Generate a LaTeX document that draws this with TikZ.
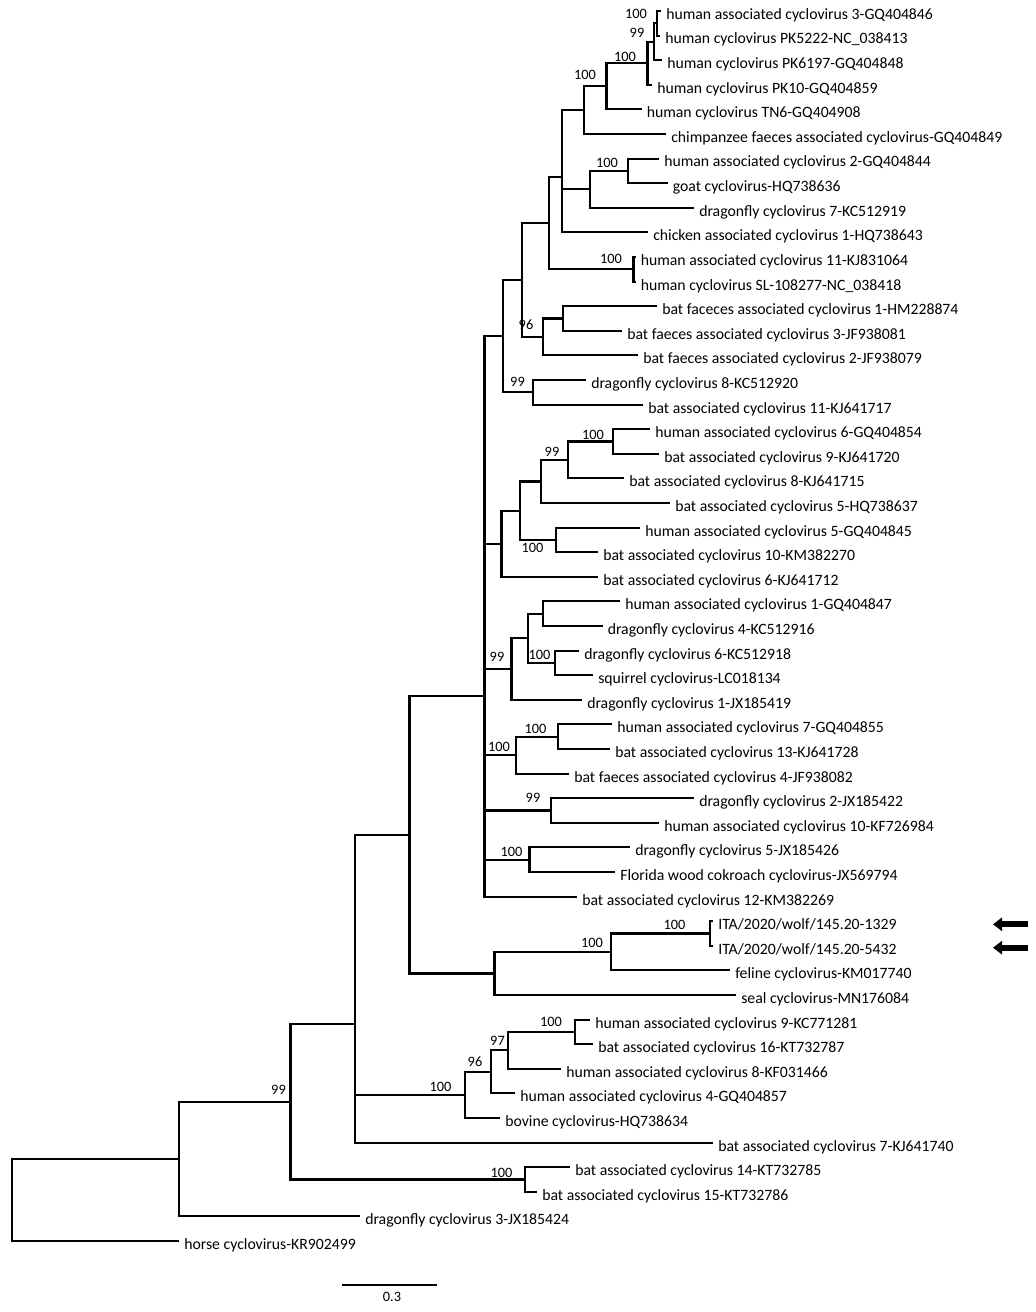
\documentclass[tikz,border=0pt]{standalone}
\usepackage{fontspec}
\setmainfont{Carlito}
\usetikzlibrary{arrows.meta}

\begin{document}
\begin{tikzpicture}[x=0.025cm,y=-0.025cm,
  branch/.style={draw=black,line width=1.45pt},
  leaf/.style={anchor=base west,inner sep=0pt,xshift=0.125cm,yshift=-0.21cm,font=\fontsize{11.2}{13}\selectfont},
  boot/.style={inner sep=0pt,font=\fontsize{10.2}{12}\selectfont},
  pointer/.style={line width=4.3pt,-{Triangle[length=6.5pt,width=9.5pt]}}
]
\useasboundingbox (0,0) rectangle (1036,1312);

\path (661,11) coordinate (t0) node[leaf] (l0) {human associated cyclovirus 3-GQ404846};
\path (660,35.6) coordinate (t1) node[leaf] (l1) {human cyclovirus PK5222-NC\_038413};
\path (662,60.2) coordinate (t2) node[leaf] (l2) {human cyclovirus PK6197-GQ404848};
\path (652,84.8) coordinate (t3) node[leaf] (l3) {human cyclovirus PK10-GQ404859};
\path (641.5,109.4) coordinate (t4) node[leaf] (l4) {human cyclovirus TN6-GQ404908};
\path (666,134) coordinate (t5) node[leaf] (l5) {chimpanzee faeces associated cyclovirus-GQ404849};
\path (659,158.6) coordinate (t6) node[leaf] (l6) {human associated cyclovirus 2-GQ404844};
\path (667.5,183.2) coordinate (t7) node[leaf] (l7) {goat cyclovirus-HQ738636};
\path (694,207.8) coordinate (t8) node[leaf] (l8) {dragonfly cyclovirus 7-KC512919};
\path (648,232.4) coordinate (t9) node[leaf] (l9) {chicken associated cyclovirus 1-HQ738643};
\path (635.5,257) coordinate (t10) node[leaf] (l10) {human associated cyclovirus 11-KJ831064};
\path (635.5,281.6) coordinate (t11) node[leaf] (l11) {human cyclovirus SL-108277-NC\_038418};
\path (657,306.2) coordinate (t12) node[leaf] (l12) {bat faceces associated cyclovirus 1-HM228874};
\path (622,330.8) coordinate (t13) node[leaf] (l13) {bat faeces associated cyclovirus 3-JF938081};
\path (638,355.4) coordinate (t14) node[leaf] (l14) {bat faeces associated cyclovirus 2-JF938079};
\path (586,380) coordinate (t15) node[leaf] (l15) {dragonfly cyclovirus 8-KC512920};
\path (643,404.6) coordinate (t16) node[leaf] (l16) {bat associated cyclovirus 11-KJ641717};
\path (650,429.2) coordinate (t17) node[leaf] (l17) {human associated cyclovirus 6-GQ404854};
\path (659,453.8) coordinate (t18) node[leaf] (l18) {bat associated cyclovirus 9-KJ641720};
\path (624,478.4) coordinate (t19) node[leaf] (l19) {bat associated cyclovirus 8-KJ641715};
\path (670,503) coordinate (t20) node[leaf] (l20) {bat associated cyclovirus 5-HQ738637};
\path (640,527.6) coordinate (t21) node[leaf] (l21) {human associated cyclovirus 5-GQ404845};
\path (598,552.2) coordinate (t22) node[leaf] (l22) {bat associated cyclovirus 10-KM382270};
\path (598,576.8) coordinate (t23) node[leaf] (l23) {bat associated cyclovirus 6-KJ641712};
\path (620,601.4) coordinate (t24) node[leaf] (l24) {human associated cyclovirus 1-GQ404847};
\path (602.5,626) coordinate (t25) node[leaf] (l25) {dragonfly cyclovirus 4-KC512916};
\path (579,650.6) coordinate (t26) node[leaf] (l26) {dragonfly cyclovirus 6-KC512918};
\path (593,675.2) coordinate (t27) node[leaf] (l27) {squirrel cyclovirus-LC018134};
\path (582,699.8) coordinate (t28) node[leaf] (l28) {dragonfly cyclovirus 1-JX185419};
\path (612,724.4) coordinate (t29) node[leaf] (l29) {human associated cyclovirus 7-GQ404855};
\path (610,749) coordinate (t30) node[leaf] (l30) {bat associated cyclovirus 13-KJ641728};
\path (569,773.6) coordinate (t31) node[leaf] (l31) {bat faeces associated cyclovirus 4-JF938082};
\path (694,798.2) coordinate (t32) node[leaf] (l32) {dragonfly cyclovirus 2-JX185422};
\path (659,822.8) coordinate (t33) node[leaf] (l33) {human associated cyclovirus 10-KF726984};
\path (630,847.4) coordinate (t34) node[leaf] (l34) {dragonfly cyclovirus 5-JX185426};
\path (615,872) coordinate (t35) node[leaf] (l35) {Florida wood cokroach cyclovirus-JX569794};
\path (577,896.6) coordinate (t36) node[leaf] (l36) {bat associated cyclovirus 12-KM382269};
\path (713,921.2) coordinate (t37) node[leaf] (l37) {ITA/2020/wolf/145.20-1329};
\path (713,945.8) coordinate (t38) node[leaf] (l38) {ITA/2020/wolf/145.20-5432};
\path (730,970.4) coordinate (t39) node[leaf] (l39) {feline cyclovirus-KM017740};
\path (736,995) coordinate (t40) node[leaf] (l40) {seal cyclovirus-MN176084};
\path (590,1019.6) coordinate (t41) node[leaf] (l41) {human associated cyclovirus 9-KC771281};
\path (593,1044.2) coordinate (t42) node[leaf] (l42) {bat associated cyclovirus 16-KT732787};
\path (561,1068.8) coordinate (t43) node[leaf] (l43) {human associated cyclovirus 8-KF031466};
\path (515,1093.4) coordinate (t44) node[leaf] (l44) {human associated cyclovirus 4-GQ404857};
\path (500,1118) coordinate (t45) node[leaf] (l45) {bovine cyclovirus-HQ738634};
\path (713,1142.6) coordinate (t46) node[leaf] (l46) {bat associated cyclovirus 7-KJ641740};
\path (570,1167.2) coordinate (t47) node[leaf] (l47) {bat associated cyclovirus 14-KT732785};
\path (537,1191.8) coordinate (t48) node[leaf] (l48) {bat associated cyclovirus 15-KT732786};
\path (360,1216.4) coordinate (t49) node[leaf] (l49) {dragonfly cyclovirus 3-JX185424};
\path (179,1241) coordinate (t50) node[leaf] (l50) {horse cyclovirus-KR902499};

\coordinate (n12) at (657,23.3);
\coordinate (n123) at (654,41.75);
\coordinate (n1234) at (647.5,63.3);
\coordinate (n5) at (606.5,86.3);
\coordinate (n6) at (584,110.2);
\coordinate (n8) at (628,170.9);
\coordinate (n7) at (590,189.3);
\coordinate (g) at (562,177.3);
\coordinate (e5) at (633.5,269.3);
\coordinate (f) at (549,223.3);
\coordinate (e4) at (563,318.5);
\coordinate (e3) at (543,337);
\coordinate (e1) at (521.7,280.1);
\coordinate (e2) at (533,392.3);
\coordinate (e) at (502.6,336.2);
\coordinate (d5) at (613,441.5);
\coordinate (d4) at (568,460);
\coordinate (d3) at (541,481.5);
\coordinate (d6) at (556,539.9);
\coordinate (d2) at (520,510.7);
\coordinate (d1) at (501.5,543.7);
\coordinate (c3) at (543,613.7);
\coordinate (c4) at (555,662.9);
\coordinate (c2) at (528,638.3);
\coordinate (c1) at (511.5,669);
\coordinate (c6) at (558,736.7);
\coordinate (c5) at (516,755.1);
\coordinate (c7) at (551,810.5);
\coordinate (c8) at (529.5,859.7);
\coordinate (r5) at (484.5,695.8);
\coordinate (w3) at (710.4,933.5);
\coordinate (w2) at (611,952);
\coordinate (w1) at (494.5,973.5);
\coordinate (r4) at (409.5,834.7);
\coordinate (h4) at (575,1031.9);
\coordinate (h3) at (508,1050.4);
\coordinate (h2) at (491,1071.9);
\coordinate (h1) at (465,1095);
\coordinate (r3) at (355,1024.1);
\coordinate (bb) at (525,1179.5);
\coordinate (r2) at (290.5,1101.8);
\coordinate (r1) at (179,1159.1);
\coordinate (root) at (12,1200);

\draw[branch] (n12) |- (t0) (n12) |- (t1) (n123) |- (n12) (n123) |- (t2)
  (n1234) |- (n123) (n1234) |- (t3) (n5) |- (n1234) (n5) |- (t4)
  (n6) |- (n5) (n6) |- (t5) (n8) |- (t6) (n8) |- (t7) (n7) |- (n8) (n7) |- (t8)
  (g) |- (n6) (g) |- (n7) (g) |- (t9) (e5) |- (t10) (e5) |- (t11)
  (f) |- (g) (f) |- (e5) (e4) |- (t12) (e4) |- (t13) (e3) |- (e4) (e3) |- (t14)
  (e1) |- (f) (e1) |- (e3) (e2) |- (t15) (e2) |- (t16) (e) |- (e1) (e) |- (e2);
\draw[branch] (d5) |- (t17) (d5) |- (t18) (d4) |- (d5) (d4) |- (t19)
  (d3) |- (d4) (d3) |- (t20) (d6) |- (t21) (d6) |- (t22) (d2) |- (d3) (d2) |- (d6)
  (d1) |- (d2) (d1) |- (t23);
\draw[branch] (c3) |- (t24) (c3) |- (t25) (c4) |- (t26) (c4) |- (t27)
  (c2) |- (c3) (c2) |- (c4) (c1) |- (c2) (c1) |- (t28)
  (c6) |- (t29) (c6) |- (t30) (c5) |- (c6) (c5) |- (t31)
  (c7) |- (t32) (c7) |- (t33) (c8) |- (t34) (c8) |- (t35);
\draw[branch] (r5) |- (e) (r5) |- (d1) (r5) |- (c1) (r5) |- (c5) (r5) |- (c7) (r5) |- (c8) (r5) |- (t36);
\draw[branch] (w3) |- (t37) (w3) |- (t38) (w2) |- (w3) (w2) |- (t39) (w1) |- (w2) (w1) |- (t40)
  (r4) |- (r5) (r4) |- (w1);
\draw[branch] (h4) |- (t41) (h4) |- (t42) (h3) |- (h4) (h3) |- (t43) (h2) |- (h3) (h2) |- (t44)
  (h1) |- (h2) (h1) |- (t45) (r3) |- (r4) (r3) |- (h1) (r3) |- (t46)
  (bb) |- (t47) (bb) |- (t48) (r2) |- (r3) (r2) |- (bb)
  (r1) |- (r2) (r1) |- (t49) (root) |- (r1) (root) |- (t50);

\node[boot] (b12) at (636,14) {100};
\node[boot] (b123) at (637,33) {99};
\node[boot] (b1234) at (625,57) {100};
\node[boot] (b5) at (585,75) {100};
\node[boot] (b8) at (607,163) {100};
\node[boot] (be5) at (611,259) {100};
\node[boot] (be3) at (526,325) {96};
\node[boot] (be2) at (517.5,382) {99};
\node[boot] (bd5) at (593,435) {100};
\node[boot] (bd4) at (552,452) {99};
\node[boot] (bd6) at (532.5,548) {100};
\node[boot] (bc1) at (497,657) {99};
\node[boot] (bc4) at (539.5,655) {100};
\node[boot] (bc6) at (535.5,729) {100};
\node[boot] (bc5) at (499,747) {100};
\node[boot] (bc7) at (533,798) {99};
\node[boot] (bc8) at (511.5,852) {100};
\node[boot] (bw3) at (674.5,925) {100};
\node[boot] (bw2) at (592,943) {100};
\node[boot] (bh4) at (551,1022) {100};
\node[boot] (bh3) at (497.5,1041) {97};
\node[boot] (bh2) at (475,1062) {96};
\node[boot] (bh1) at (440.5,1087) {100};
\node[boot] (br2) at (278.5,1090) {99};
\node[boot] (bbb) at (501.5,1173) {100};

\coordinate (a1) at (1028,924.3);
\coordinate (a1t) at (993,924.3);
\coordinate (a2) at (1028,947.7);
\coordinate (a2t) at (993,947.7);
\draw[pointer] (a1) -- (a1t);
\draw[pointer] (a2) -- (a2t);

\coordinate (s0) at (341.7,1285);
\coordinate (s1) at (437.3,1285);
\draw[branch] (s0) -- (s1);
\node[boot] (sl) at (392,1297) {0.3};
\end{tikzpicture}
\end{document}
